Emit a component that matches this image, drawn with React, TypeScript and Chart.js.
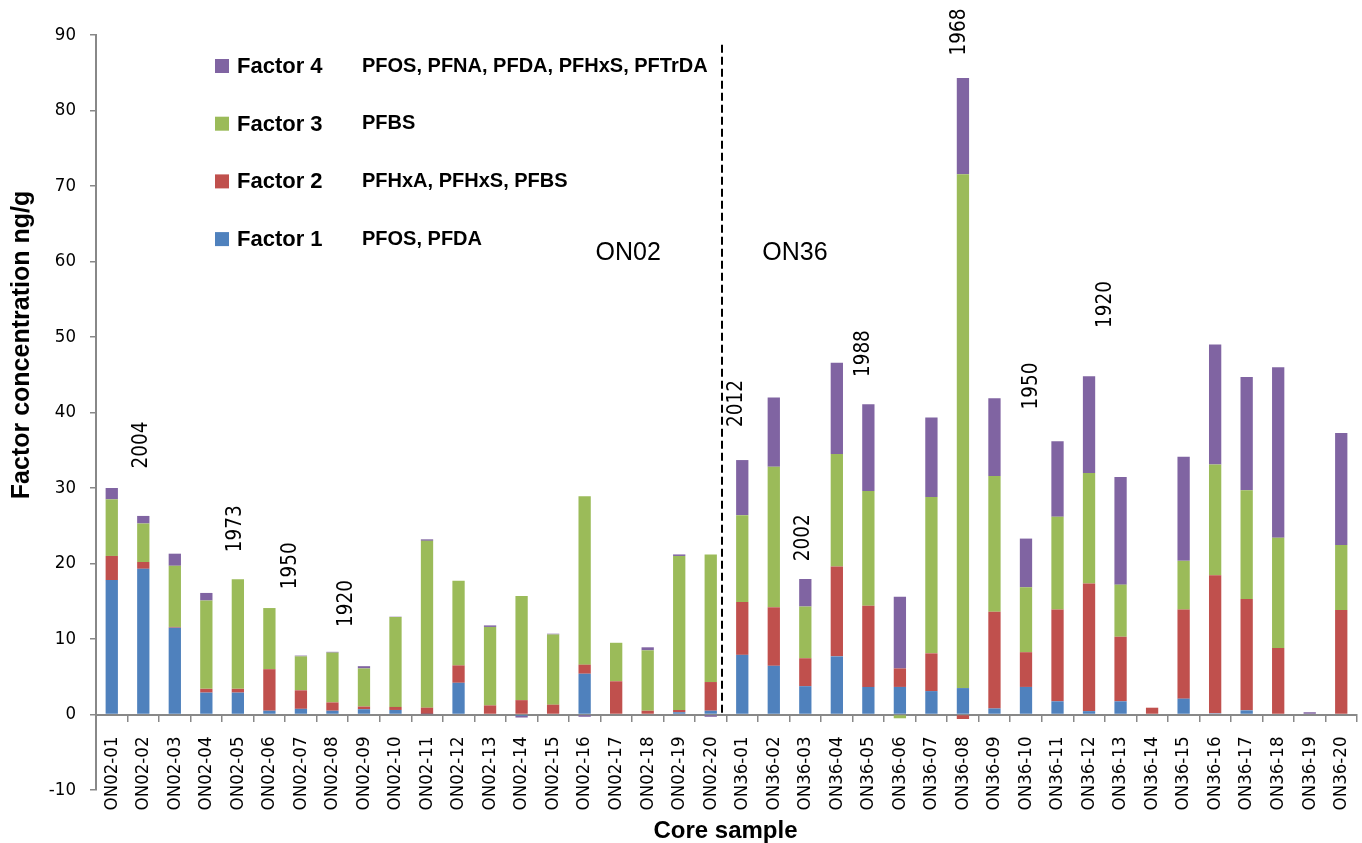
import React, { useEffect, useRef } from "react";
import { Chart, registerables } from "chart.js";

Chart.register(...registerables);

const categories = [
  "ON02-01", "ON02-02", "ON02-03", "ON02-04", "ON02-05", "ON02-06", "ON02-07", "ON02-08", "ON02-09", "ON02-10",
  "ON02-11", "ON02-12", "ON02-13", "ON02-14", "ON02-15", "ON02-16", "ON02-17", "ON02-18", "ON02-19", "ON02-20",
  "ON36-01", "ON36-02", "ON36-03", "ON36-04", "ON36-05", "ON36-06", "ON36-07", "ON36-08", "ON36-09", "ON36-10",
  "ON36-11", "ON36-12", "ON36-13", "ON36-14", "ON36-15", "ON36-16", "ON36-17", "ON36-18", "ON36-19", "ON36-20",
];

const factor1 = [
  17.8, 19.3, 11.5, 2.9, 2.9, 0.5, 0.75, 0.5, 0.7, 0.6, 0.05, 4.2, 0.1, -0.2, 0.1, 5.4, 0.1, 0.1, 0.3, 0.5,
  7.9, 6.45, 3.75, 7.7, 3.65, 3.65, 3.1, 3.5, 0.8, 3.65, 1.75, 0.45, 1.75, 0.1, 2.1, 0.15, 0.55, 0, 0, 0,
];
const factor2 = [
  3.2, 0.9, 0.1, 0.5, 0.5, 5.5, 2.45, 1.1, 0.35, 0.4, 0.85, 2.3, 1.1, 1.9, 1.2, 1.2, 4.3, 0.4, 0.3, 3.8,
  7.0, 7.75, 3.7, 11.9, 10.75, 2.45, 5.0, -0.6, 12.8, 4.6, 12.15, 16.9, 8.55, 0.8, 11.8, 18.3, 14.75, 8.8, 0, 13.85,
];
const factor3 = [
  7.5, 5.1, 8.1, 11.7, 14.5, 8.1, 4.5, 6.6, 5.05, 11.9, 22.1, 11.2, 10.4, 13.8, 9.3, 22.3, 5.1, 8.0, 20.4, 16.9,
  11.5, 18.6, 6.85, 14.9, 15.2, -0.5, 20.7, 68.05, 18.0, 8.6, 12.3, 14.65, 6.9, 0, 6.45, 14.65, 14.4, 14.6, 0, 8.6,
];
const factor4 = [
  1.5, 1.0, 1.6, 1.0, 0, 0, 0.1, 0.1, 0.3, 0.05, 0.2, 0, 0.2, -0.2, 0.1, -0.3, 0, 0.4, 0.2, -0.3,
  7.3, 9.2, 3.65, 12.1, 11.5, 9.5, 10.55, 12.75, 10.3, 6.45, 10.0, 12.8, 14.25, 0, 13.8, 15.9, 15.0, 22.6, 0.3, 14.85,
];

const seriesNames = ["Factor 1", "Factor 2", "Factor 3", "Factor 4"];
const seriesDescriptions = [
  "PFOS, PFDA",
  "PFHxA, PFHxS, PFBS",
  "PFBS",
  "PFOS, PFNA, PFDA, PFHxS, PFTrDA",
];
const seriesColors = ["#4F81BD", "#C0504D", "#9BBB59", "#8064A2"];

const yearLabels = ["2004", "1973", "1950", "1920", "2012", "2002", "1988", "1968", "1950", "1920"];
const yearIndex = [0.96, 3.94, 5.68, 7.46, 19.83, 21.95, 23.86, 26.9, 29.19, 31.54];
const yearValue = [35.7, 24.6, 19.7, 14.7, 41.2, 23.4, 47.8, 90.4, 43.5, 54.3];

const siteLabels = ["ON02", "ON36"];
const siteIndex = [16.38, 21.67];
const siteValue = [61.1, 61.1];

const dividerIndex = 19.36;
const dividerTop = 88.7;

const yTicks = [-10, 0, 10, 20, 30, 40, 50, 60, 70, 80, 90];

const TICK_FONT = "'DejaVu Sans Condensed', 'DejaVu Sans', sans-serif";

const overlayPlugin = {
  id: "overlay",
  afterDraw(chart: any) {
    const ctx = chart.ctx;
    const xs = chart.scales.x;
    const ys = chart.scales.y;
    const xAt = (i: number) => {
      const a = xs.getPixelForValue(Math.floor(i));
      const b = xs.getPixelForValue(Math.floor(i) + 1);
      return a + (b - a) * (i - Math.floor(i));
    };
    ctx.save();

    // divider
    ctx.strokeStyle = "#000";
    ctx.lineWidth = 2;
    ctx.setLineDash([8, 4]);
    const dx = Math.round(xAt(dividerIndex));
    ctx.beginPath();
    ctx.moveTo(dx, ys.getPixelForValue(dividerTop));
    ctx.lineTo(dx, ys.getPixelForValue(0));
    ctx.stroke();
    ctx.setLineDash([]);

    // year labels
    ctx.fillStyle = "#000";
    ctx.font = "20.5px " + TICK_FONT;
    ctx.textAlign = "center";
    ctx.textBaseline = "middle";
    yearLabels.forEach((t, k) => {
      ctx.save();
      ctx.translate(xAt(yearIndex[k]), ys.getPixelForValue(yearValue[k]));
      ctx.rotate(-Math.PI / 2);
      ctx.fillText(t, 0, 0);
      ctx.restore();
    });

    // site labels
    ctx.font = "25px 'Liberation Sans'";
    siteLabels.forEach((t, k) => {
      ctx.fillText(t, xAt(siteIndex[k]), ys.getPixelForValue(siteValue[k]));
    });

    // legend
    const left = chart.chartArea.left;
    const top = chart.chartArea.top;
    const rows = [3, 2, 1, 0];
    rows.forEach((s, r) => {
      const cy = top + 31 + r * 57.7;
      ctx.fillStyle = seriesColors[s];
      ctx.fillRect(left + 119, cy - 7, 14, 14);
      ctx.fillStyle = "#000";
      ctx.textAlign = "left";
      ctx.textBaseline = "middle";
      ctx.font = "bold 22px 'Liberation Sans'";
      ctx.fillText(seriesNames[s], left + 141, cy + 1);
      ctx.font = "bold 20px 'Liberation Sans'";
      ctx.fillText(seriesDescriptions[s], left + 266, cy);
    });

    // axis titles
    ctx.font = "bold 24px 'Liberation Sans'";
    ctx.textAlign = "center";
    ctx.textBaseline = "middle";
    ctx.fillText("Core sample", (chart.chartArea.left + chart.chartArea.right) / 2 - 1, 831);
    ctx.save();
    ctx.translate(22, 345);
    ctx.rotate(-Math.PI / 2);
    ctx.font = "bold 25px 'Liberation Sans'";
    ctx.fillText("Factor concentration ng/g", 0, 0);
    ctx.restore();

    ctx.restore();
  },
};

export default function App() {
  const ref = useRef<HTMLCanvasElement | null>(null);
  useEffect(() => {
    if (!ref.current) return;
    const chart = new Chart(ref.current, {
      type: "bar",
      data: {
        labels: categories,
        datasets: [factor1, factor2, factor3, factor4].map((d, i) => ({
          label: seriesNames[i],
          data: d,
          backgroundColor: seriesColors[i],
          borderWidth: 0,
          barPercentage: 0.39,
          categoryPercentage: 1,
          stack: "s",
        })),
      },
      options: {
        responsive: false,
        animation: false,
        events: [],
        layout: { padding: { top: 35, right: 5, bottom: 53, left: 0 } },
        plugins: { legend: { display: false }, tooltip: { enabled: false }, title: { display: false } },
        scales: {
          x: {
            stacked: true,
            position: { y: 0 },
            offset: true,
            afterFit: (s: any) => {
              s.paddingLeft = 0;
              s.paddingRight = 0;
            },
            grid: {
              offset: true,
              display: true,
              drawOnChartArea: false,
              drawTicks: true,
              tickLength: 6,
              color: "#888",
              lineWidth: 1.5,
            },
            border: { display: true, color: "#888", width: 2 },
            ticks: {
              minRotation: 90,
              maxRotation: 90,
              autoSkip: false,
              padding: 16,
              color: "#000",
              font: { family: TICK_FONT, size: 18.5 },
            },
          },
          y: {
            stacked: true,
            min: -10,
            max: 90,
            afterFit: (s: any) => {
              s.width = 96;
            },
            afterBuildTicks: (s: any) => {
              s.ticks = yTicks.map((v) => ({ value: v }));
            },
            grid: {
              display: true,
              drawOnChartArea: false,
              drawTicks: true,
              tickLength: 6,
              color: "#888",
              lineWidth: 1.5,
            },
            border: { display: true, color: "#888", width: 2 },
            ticks: {
              padding: 14,
              color: "#000",
              font: { family: TICK_FONT, size: 18.5 },
            },
          },
        },
      },
      plugins: [overlayPlugin],
    });
    return () => chart.destroy();
  }, []);
  return (
    <div style={{ position: "absolute", left: 0, top: 0, width: 1362, height: 843, background: "#fff" }}>
      <canvas ref={ref} width={1362} height={843} style={{ display: "block" }} />
    </div>
  );
}
